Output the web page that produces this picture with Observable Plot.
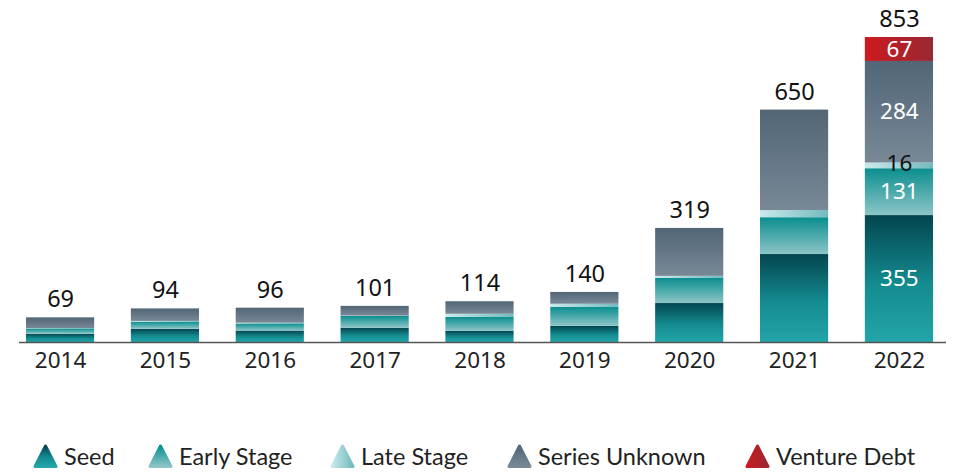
<!DOCTYPE html>
<html>
<head>
<meta charset="utf-8">
<script src="https://cdn.jsdelivr.net/npm/d3@7"></script>
<script src="https://cdn.jsdelivr.net/npm/@observablehq/plot@0.6"></script>
<style>
  body { margin: 0; background: #fff; }
  #chart { position: relative; width: 955px; }
  #legend { position: relative; width: 955px; height: 73px; font-family: Lato, "Noto Sans", sans-serif; font-size: 23.5px; color: #222; }
  .item { position: absolute; top: 43px; display: flex; align-items: center; height: 26px; white-space: nowrap; }
  .item svg { margin-right: 6px; }
</style>
</head>
<body>
<div id="chart"></div>
<div id="legend"></div>
<script>
const years = ["2014","2015","2016","2017","2018","2019","2020","2021","2022"];
const seriesNames = ["Seed","Early Stage","Late Stage","Series Unknown","Venture Debt"];
const seed    = [23, 37, 32, 40, 31, 45, 109, 246, 355];
const early   = [15, 20, 20, 33, 39, 53, 70, 103, 131];
const late    = [1, 2, 2, 1, 9, 9, 6, 20, 16];
const unknown = [30, 35, 42, 27, 35, 33, 134, 281, 284];
const debt    = [0, 0, 0, 0, 0, 0, 0, 0, 67];
const totals  = [69, 94, 96, 101, 114, 140, 319, 650, 853];
const labelledYear = "2022";

const seriesValues = [seed, early, late, unknown, debt];
const rows = [];
years.forEach((yr, i) => seriesNames.forEach((s, j) => rows.push({year: yr, series: s, value: seriesValues[j][i]})));
const labelRows = rows.filter(d => d.year === labelledYear && d.value > 0);

const gradients = [
  {id: "g-seed", horiz: false, stops: [[0, "#03454f"], [0.55, "#148c90"], [1, "#23a5a9"]]},
  {id: "g-early", horiz: false, stops: [[0, "#0a8e8f"], [1, "#8dc5c7"]]},
  {id: "g-late", horiz: true, stops: [[0, "#cbe9eb"], [1, "#72babd"]]},
  {id: "g-unknown", horiz: false, stops: [[0, "#526676"], [1, "#788897"]]},
  {id: "g-debt", horiz: true, stops: [[0, "#cd1a1f"], [1, "#982833"]]}
];

function addDefs(defs, prefix) {
  gradients.forEach(g => {
    const lg = defs.append("linearGradient").attr("id", prefix + g.id)
      .attr("x1", 0).attr("y1", 0).attr("x2", g.horiz ? 1 : 0).attr("y2", g.horiz ? 0 : 1);
    g.stops.forEach(([o, c]) => lg.append("stop").attr("offset", o).attr("stop-color", c));
  });
}

const defsMark = () => {
  const defs = d3.create("svg:defs");
  addDefs(defs, "");
  return defs.node();
};

const isLate = d => d.series === "Late Stage";

const chart = Plot.plot({
  width: 955,
  height: 400,
  marginLeft: 19,
  marginRight: 9,
  marginTop: 37,
  marginBottom: 58,
  style: {fontFamily: "'Noto Sans', sans-serif", background: "#fff"},
  x: {domain: years, range: [26, 933], paddingInner: 0.35, paddingOuter: 0, round: false, label: null},
  y: {domain: [0, 853], range: [342, 37], axis: null},
  color: {domain: seriesNames, range: gradients.map(g => `url(#${g.id})`)},
  marks: [
    defsMark,
    Plot.barY(rows, {x: "year", y: "value", fill: "series", order: seriesNames}),
    Plot.ruleY([0], {stroke: "#555", strokeWidth: 1.5}),
    Plot.axisX({tickSize: 0, tickPadding: 10, fontSize: 22.5, fill: "#222", label: null}),
    Plot.text(years, {x: d => d, y: (d, i) => totals[i], text: (d, i) => String(totals[i]), dy: -18, fontSize: 23.5, fill: "#111"}),
    Plot.text(labelRows, Plot.stackY({x: "year", y: "value", z: "series", order: seriesNames,
      text: d => isLate(d) ? "" : String(d.value), fill: "#fff", fontSize: 22.5})),
    Plot.text(labelRows, Plot.stackY({x: "year", y: "value", z: "series", order: seriesNames,
      text: d => isLate(d) ? String(d.value) : "", fill: "#111", dy: -2, fontSize: 22.5}))
  ]
});
document.getElementById("chart").appendChild(chart);

const legendX = [33, 148, 330, 507, 745];
const legend = d3.select("#legend");
const lsvgDefs = legend.append("svg").attr("width", 0).attr("height", 0).style("position", "absolute");
addDefs(lsvgDefs.append("defs"), "L");
seriesNames.forEach((s, i) => {
  const item = legend.append("div").attr("class", "item").style("left", legendX[i] + "px");
  const svg = item.append("svg").attr("width", 25).attr("height", 25);
  svg.append("path").attr("d", "M12.5,2 L23,22.5 L2,22.5 Z")
    .attr("fill", `url(#L${gradients[i].id})`).attr("stroke", `url(#L${gradients[i].id})`)
    .attr("stroke-width", 3).attr("stroke-linejoin", "round");
  item.append("span").text(s);
});
</script>
</body>
</html>
